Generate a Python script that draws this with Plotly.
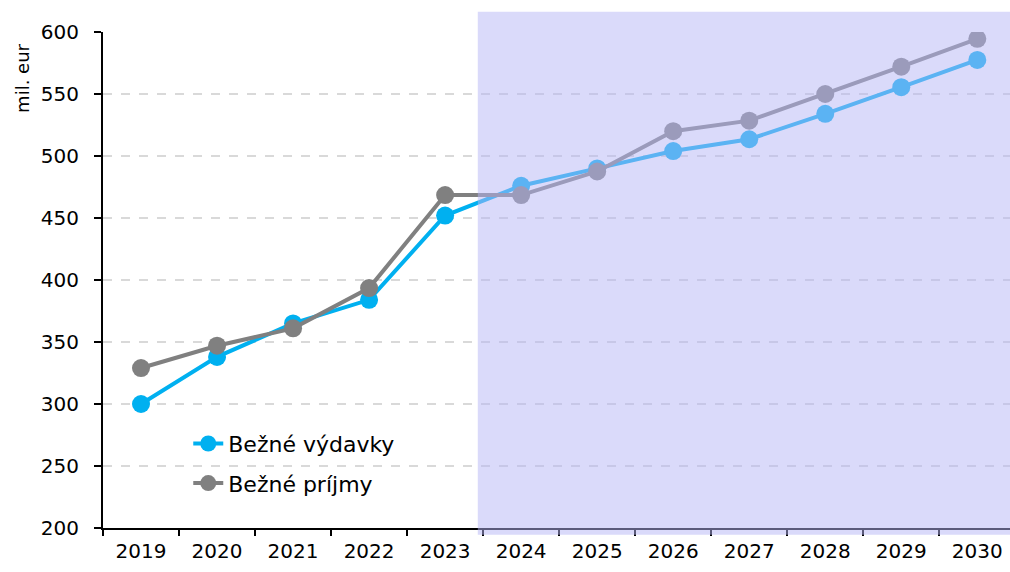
import plotly.graph_objects as go

years = ["2019", "2020", "2021", "2022", "2023", "2024",
         "2025", "2026", "2027", "2028", "2029", "2030"]
vydavky = [300, 338, 365, 384, 452, 476, 490, 504, 513.5, 534, 555.5, 577.5]
prijmy = [329, 347, 361, 393.5, 468.5, 468.5, 487.5, 520, 528.5, 550, 572, 594.5]

FONT = "DejaVu Sans"

fig = go.Figure()
fig.add_trace(go.Scatter(
    x=years, y=vydavky, name="Bežné výdavky", mode="lines+markers",
    line=dict(color="#00B0F0", width=4), marker=dict(size=18, color="#00B0F0"),
    legendgroup="a"))
fig.add_trace(go.Scatter(
    x=years, y=prijmy, name="Bežné príjmy", mode="lines+markers",
    line=dict(color="#808080", width=4), marker=dict(size=18, color="#808080"),
    legendgroup="b"))

# white box behind the legend hides the gridline
fig.add_shape(type="rect", xref="paper", yref="paper",
              x0=0.0085, x1=0.393, y0=0.08, y1=0.2,
              fillcolor="white", line=dict(width=0), layer="between")

# prognosis area, drawn over the lines
fig.add_shape(type="rect", xref="x", yref="paper",
              x0=4.43, x1=11.6, y0=-0.0135, y1=1.041,
              fillcolor="rgb(181,181,245)", opacity=0.5,
              line=dict(width=0), layer="above")

fig.add_annotation(text="mil. eur", xref="paper", yref="paper",
                   x=-0.089, y=0.906, xanchor="center", yanchor="middle",
                   textangle=-90, showarrow=False,
                   font=dict(size=18, color="black", family=FONT))

fig.update_xaxes(type="category", range=[-0.5, 11.43], automargin=False,
                 showline=True, linecolor="black", linewidth=2,
                 ticks="outside", tickson="boundaries", ticklen=6,
                 tickcolor="black", tickwidth=2, showgrid=False,
                 ticklabelstandoff=4,
                 tickfont=dict(size=20, family=FONT, color="black"))
fig.update_yaxes(range=[200, 600], dtick=50, automargin=False,
                 showline=True, linecolor="black", linewidth=2,
                 ticks="outside", ticklen=7, tickcolor="black", tickwidth=2,
                 showgrid=True, gridcolor="#D9D9D9", griddash="dash",
                 gridwidth=1.5, zeroline=False, ticklabelstandoff=11,
                 tickfont=dict(size=20, family=FONT, color="black"))

fig.update_layout(
    width=1010, height=572,
    margin=dict(l=103, r=0, t=32, b=44),
    plot_bgcolor="white", paper_bgcolor="white",
    showlegend=True,
    legend=dict(x=0.094, y=0.2123, xanchor="left", yanchor="top",
                bgcolor="rgba(0,0,0,0)", traceorder="grouped",
                tracegroupgap=8,
                font=dict(size=22, family=FONT, color="black")),
)

# drop the default page margin so the figure fills the window
fig.write_html("out.html", config={"displayModeBar": False},
               post_script="document.body.style.margin = '0';")
